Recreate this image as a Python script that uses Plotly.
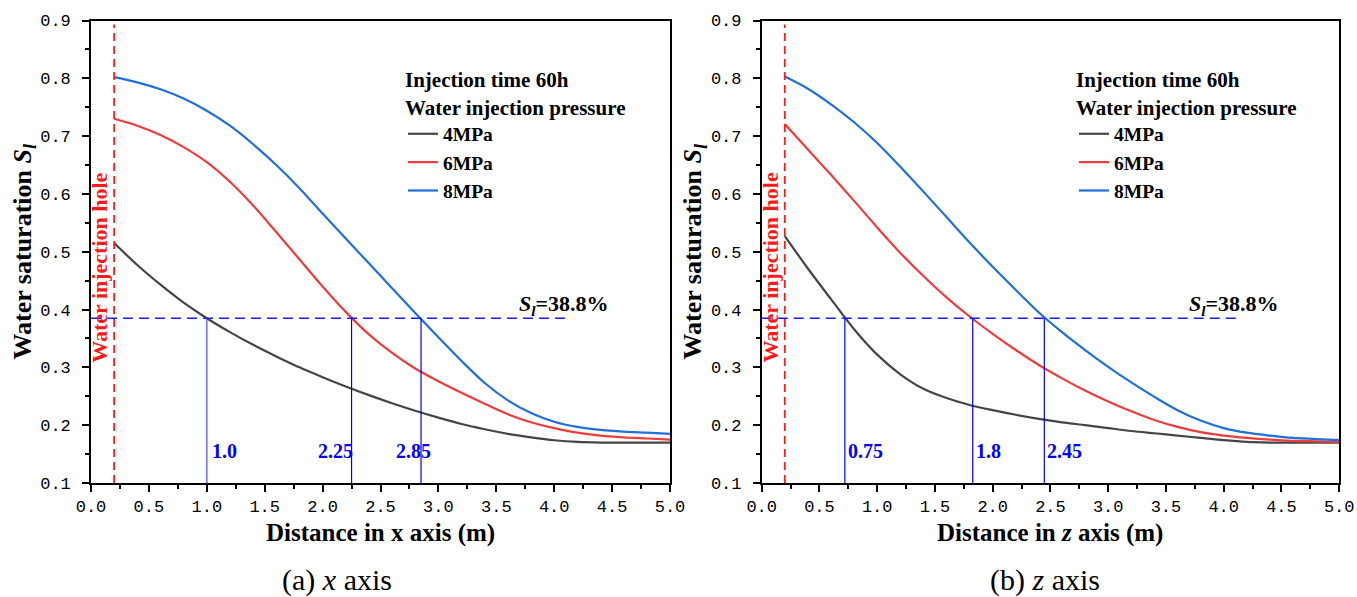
import plotly.graph_objects as go

# ---------------- data ----------------
dist = [0.2, 0.4, 0.6, 0.8, 1.0, 1.2, 1.4, 1.6, 1.8, 2.0, 2.2, 2.4, 2.6,
        2.8, 3.0, 3.2, 3.4, 3.6, 3.8, 4.0, 4.2, 4.4, 4.6, 4.8, 5.0]

# (a) x axis
x_4mpa = [0.515, 0.477, 0.443, 0.412, 0.385, 0.361, 0.339, 0.319, 0.300, 0.283, 0.267, 0.252, 0.238,
          0.225, 0.213, 0.202, 0.193, 0.185, 0.179, 0.174, 0.171, 0.170, 0.170, 0.170, 0.170]
x_6mpa = [0.730, 0.718, 0.702, 0.681, 0.655, 0.621, 0.580, 0.534, 0.487, 0.440, 0.396, 0.357, 0.325,
          0.298, 0.276, 0.256, 0.237, 0.219, 0.205, 0.195, 0.187, 0.182, 0.179, 0.177, 0.175]
x_8mpa = [0.802, 0.793, 0.781, 0.765, 0.744, 0.718, 0.686, 0.650, 0.610, 0.566, 0.523, 0.480, 0.437,
          0.394, 0.352, 0.311, 0.273, 0.243, 0.221, 0.206, 0.197, 0.192, 0.189, 0.187, 0.185]

# (b) z axis
z_4mpa = [0.527, 0.471, 0.418, 0.366, 0.322, 0.288, 0.263, 0.247, 0.235, 0.226, 0.218, 0.211, 0.205,
          0.200, 0.195, 0.190, 0.186, 0.182, 0.178, 0.174, 0.171, 0.170, 0.170, 0.170, 0.170]
z_6mpa = [0.721, 0.677, 0.633, 0.588, 0.542, 0.498, 0.458, 0.421, 0.388, 0.358, 0.330, 0.304, 0.281,
          0.260, 0.241, 0.224, 0.209, 0.197, 0.188, 0.182, 0.178, 0.175, 0.173, 0.172, 0.171]
z_8mpa = [0.803, 0.782, 0.755, 0.724, 0.688, 0.647, 0.604, 0.560, 0.516, 0.474, 0.434, 0.395, 0.361,
          0.330, 0.301, 0.274, 0.249, 0.226, 0.208, 0.195, 0.187, 0.182, 0.178, 0.176, 0.174]

pressures = ["4MPa", "6MPa", "8MPa"]
line_colors = ["#454545", "#ee3b3b", "#1f6fdc"]

hole_x = 0.2
hole_top = 0.893
threshold = 0.385
threshold_end = 4.13
y_min, y_max = 0.1, 0.9

x_cross = [1.0, 2.25, 2.85]
x_cross_labels = ["1.0", "2.25", "2.85"]
z_cross = [0.72, 1.827, 2.447]
z_cross_labels = ["0.75", "1.8", "2.45"]

# ---------------- styling ----------------
SERIF = "Liberation Serif"
MONO = "Liberation Mono"
W, H = 1357, 597

fig = go.Figure()

panels = [
    dict(xa="x", ya="y", legend="legend", series=[x_4mpa, x_6mpa, x_8mpa],
         cross=x_cross, labels=x_cross_labels,
         cross_colors=["rgba(60,60,255,0.65)", "#0000ff", "#0000ff"],
         cross_widths=[1.8, 1.2, 1.2],
         label_anchor=[("left", 3), ("right", 3), ("center", -8)]),
    dict(xa="x2", ya="y2", legend="legend2", series=[z_4mpa, z_6mpa, z_8mpa],
         cross=z_cross, labels=z_cross_labels,
         cross_colors=["#0000ff", "#0000ff", "#0000ff"],
         cross_widths=[1.2, 1.2, 1.2],
         label_anchor=[("left", 1), ("left", 1), ("left", 1)]),
]

for p in panels:
    for name, vals, col in zip(pressures, p["series"], line_colors):
        fig.add_trace(go.Scatter(x=dist, y=vals, mode="lines", name=name,
                                 line=dict(color=col, width=2.2, shape="spline", smoothing=0.9),
                                 xaxis=p["xa"], yaxis=p["ya"], legend=p["legend"]))
    # water injection hole
    fig.add_trace(go.Scatter(x=[hole_x, hole_x], y=[y_min, hole_top], mode="lines",
                             line=dict(color="#ff1a1a", width=1.8, dash="8px,5px"),
                             showlegend=False, xaxis=p["xa"], yaxis=p["ya"]))
    # threshold line
    fig.add_trace(go.Scatter(x=[0, threshold_end], y=[threshold, threshold], mode="lines",
                             line=dict(color="#1a1aff", width=1.6, dash="10px,6px"),
                             showlegend=False, xaxis=p["xa"], yaxis=p["ya"]))
    # crossing verticals
    for cx, cc, cw in zip(p["cross"], p["cross_colors"], p["cross_widths"]):
        fig.add_trace(go.Scatter(x=[cx, cx], y=[y_min, threshold], mode="lines",
                                 line=dict(color=cc, width=cw),
                                 showlegend=False, xaxis=p["xa"], yaxis=p["ya"]))
    for cx, lab, (anc, sh) in zip(p["cross"], p["labels"], p["label_anchor"]):
        fig.add_annotation(x=cx, y=0.155, xref=p["xa"], yref=p["ya"], text="<b>" + lab + "</b>",
                           showarrow=False, xanchor=anc, yanchor="middle", xshift=sh,
                           font=dict(family=SERIF, size=20, color="#0000ff"))
    fig.add_annotation(x=3.68, y=0.408, xref=p["xa"], yref=p["ya"],
                       text="<b><i>S</i><sub><i>l</i></sub>=38.8%</b>",
                       showarrow=False, xanchor="left", yanchor="middle",
                       font=dict(family=SERIF, size=22, color="black"))
    fig.add_annotation(x=0.077, y=0.472, xref=p["xa"], yref=p["ya"],
                       text="<b>Water injection hole</b>", textangle=-90,
                       showarrow=False, xanchor="center", yanchor="middle",
                       font=dict(family=SERIF, size=22, color="#ff1a1a"))


def xaxis_cfg(domain, anchor):
    return dict(domain=domain, range=[0, 5], tick0=0, dtick=0.5, tickformat=".1f",
                anchor=anchor, automargin=False,
                showline=True, linecolor="black", linewidth=1.6, mirror=True,
                ticks="outside", ticklen=7, tickwidth=1.5, tickcolor="black",
                ticklabelstandoff=0,
                minor=dict(dtick=0.25, ticks="outside", ticklen=4, tickwidth=1.5, tickcolor="black"),
                showgrid=False, zeroline=False,
                tickfont=dict(family=MONO, size=17, color="black"))


def yaxis_cfg(domain, anchor):
    return dict(domain=domain, range=[y_min, y_max], tick0=0.1, dtick=0.1, tickformat=".1f",
                anchor=anchor, automargin=False,
                showline=True, linecolor="black", linewidth=1.6, mirror=True,
                ticks="outside", ticklen=7, tickwidth=1.5, tickcolor="black",
                ticklabelstandoff=8,
                minor=dict(dtick=0.05, ticks="outside", ticklen=4, tickwidth=1.5, tickcolor="black"),
                showgrid=False, zeroline=False,
                tickfont=dict(family=MONO, size=17, color="black"),
                title=dict(text="<b>Water saturation <i>S</i><sub><i>l</i></sub></b>", standoff=0,
                           font=dict(family=SERIF, size=26, color="black")))


ydom = [1 - 483 / H, 1 - 20.5 / H]
xdom_a = [91 / W, 670 / W]
xdom_b = [761.7 / W, 1339.2 / W]

legend_common = dict(bgcolor="rgba(0,0,0,0)", borderwidth=0, tracegroupgap=0,
                     yanchor="top", xanchor="left",
                     font=dict(family=SERIF, size=19.5, color="black", weight="bold"),
                     title=dict(text="<b>Injection time 60h<br>Water injection pressure</b>",
                                font=dict(family=SERIF, size=21, color="black")))

fig.update_layout(
    template="none",
    width=W, height=H, margin=dict(l=0, r=0, t=0, b=0, autoexpand=False),
    paper_bgcolor="white", plot_bgcolor="white",
    xaxis=xaxis_cfg(xdom_a, "y"), yaxis=yaxis_cfg(ydom, "x"),
    xaxis2=xaxis_cfg(xdom_b, "y2"), yaxis2=yaxis_cfg(ydom, "x2"),
    legend=dict(legend_common, x=403 / W, y=1 - 60 / H),
    legend2=dict(legend_common, x=1074 / W, y=1 - 60 / H),
    showlegend=True,
)

# x-axis titles
for dom, txt in [(xdom_a, "<b>Distance in x axis (m)</b>"),
                 (xdom_b, "<b>Distance in <i>z</i> axis (m)</b>")]:
    fig.add_annotation(x=(dom[0] + dom[1]) / 2, y=1 - 533 / H, xref="paper", yref="paper",
                       text=txt, showarrow=False, xanchor="center", yanchor="middle",
                       font=dict(family=SERIF, size=25, color="black"))

# captions
fig.add_annotation(x=337 / W, y=1 - 580 / H, xref="paper", yref="paper",
                   text="(a) <i>x</i> axis", showarrow=False, xanchor="center", yanchor="middle",
                   font=dict(family=SERIF, size=30, color="black"))
fig.add_annotation(x=1045 / W, y=1 - 580 / H, xref="paper", yref="paper",
                   text="(b) <i>z</i> axis", showarrow=False, xanchor="center", yanchor="middle",
                   font=dict(family=SERIF, size=30, color="black"))

fig.write_html("out.html")
